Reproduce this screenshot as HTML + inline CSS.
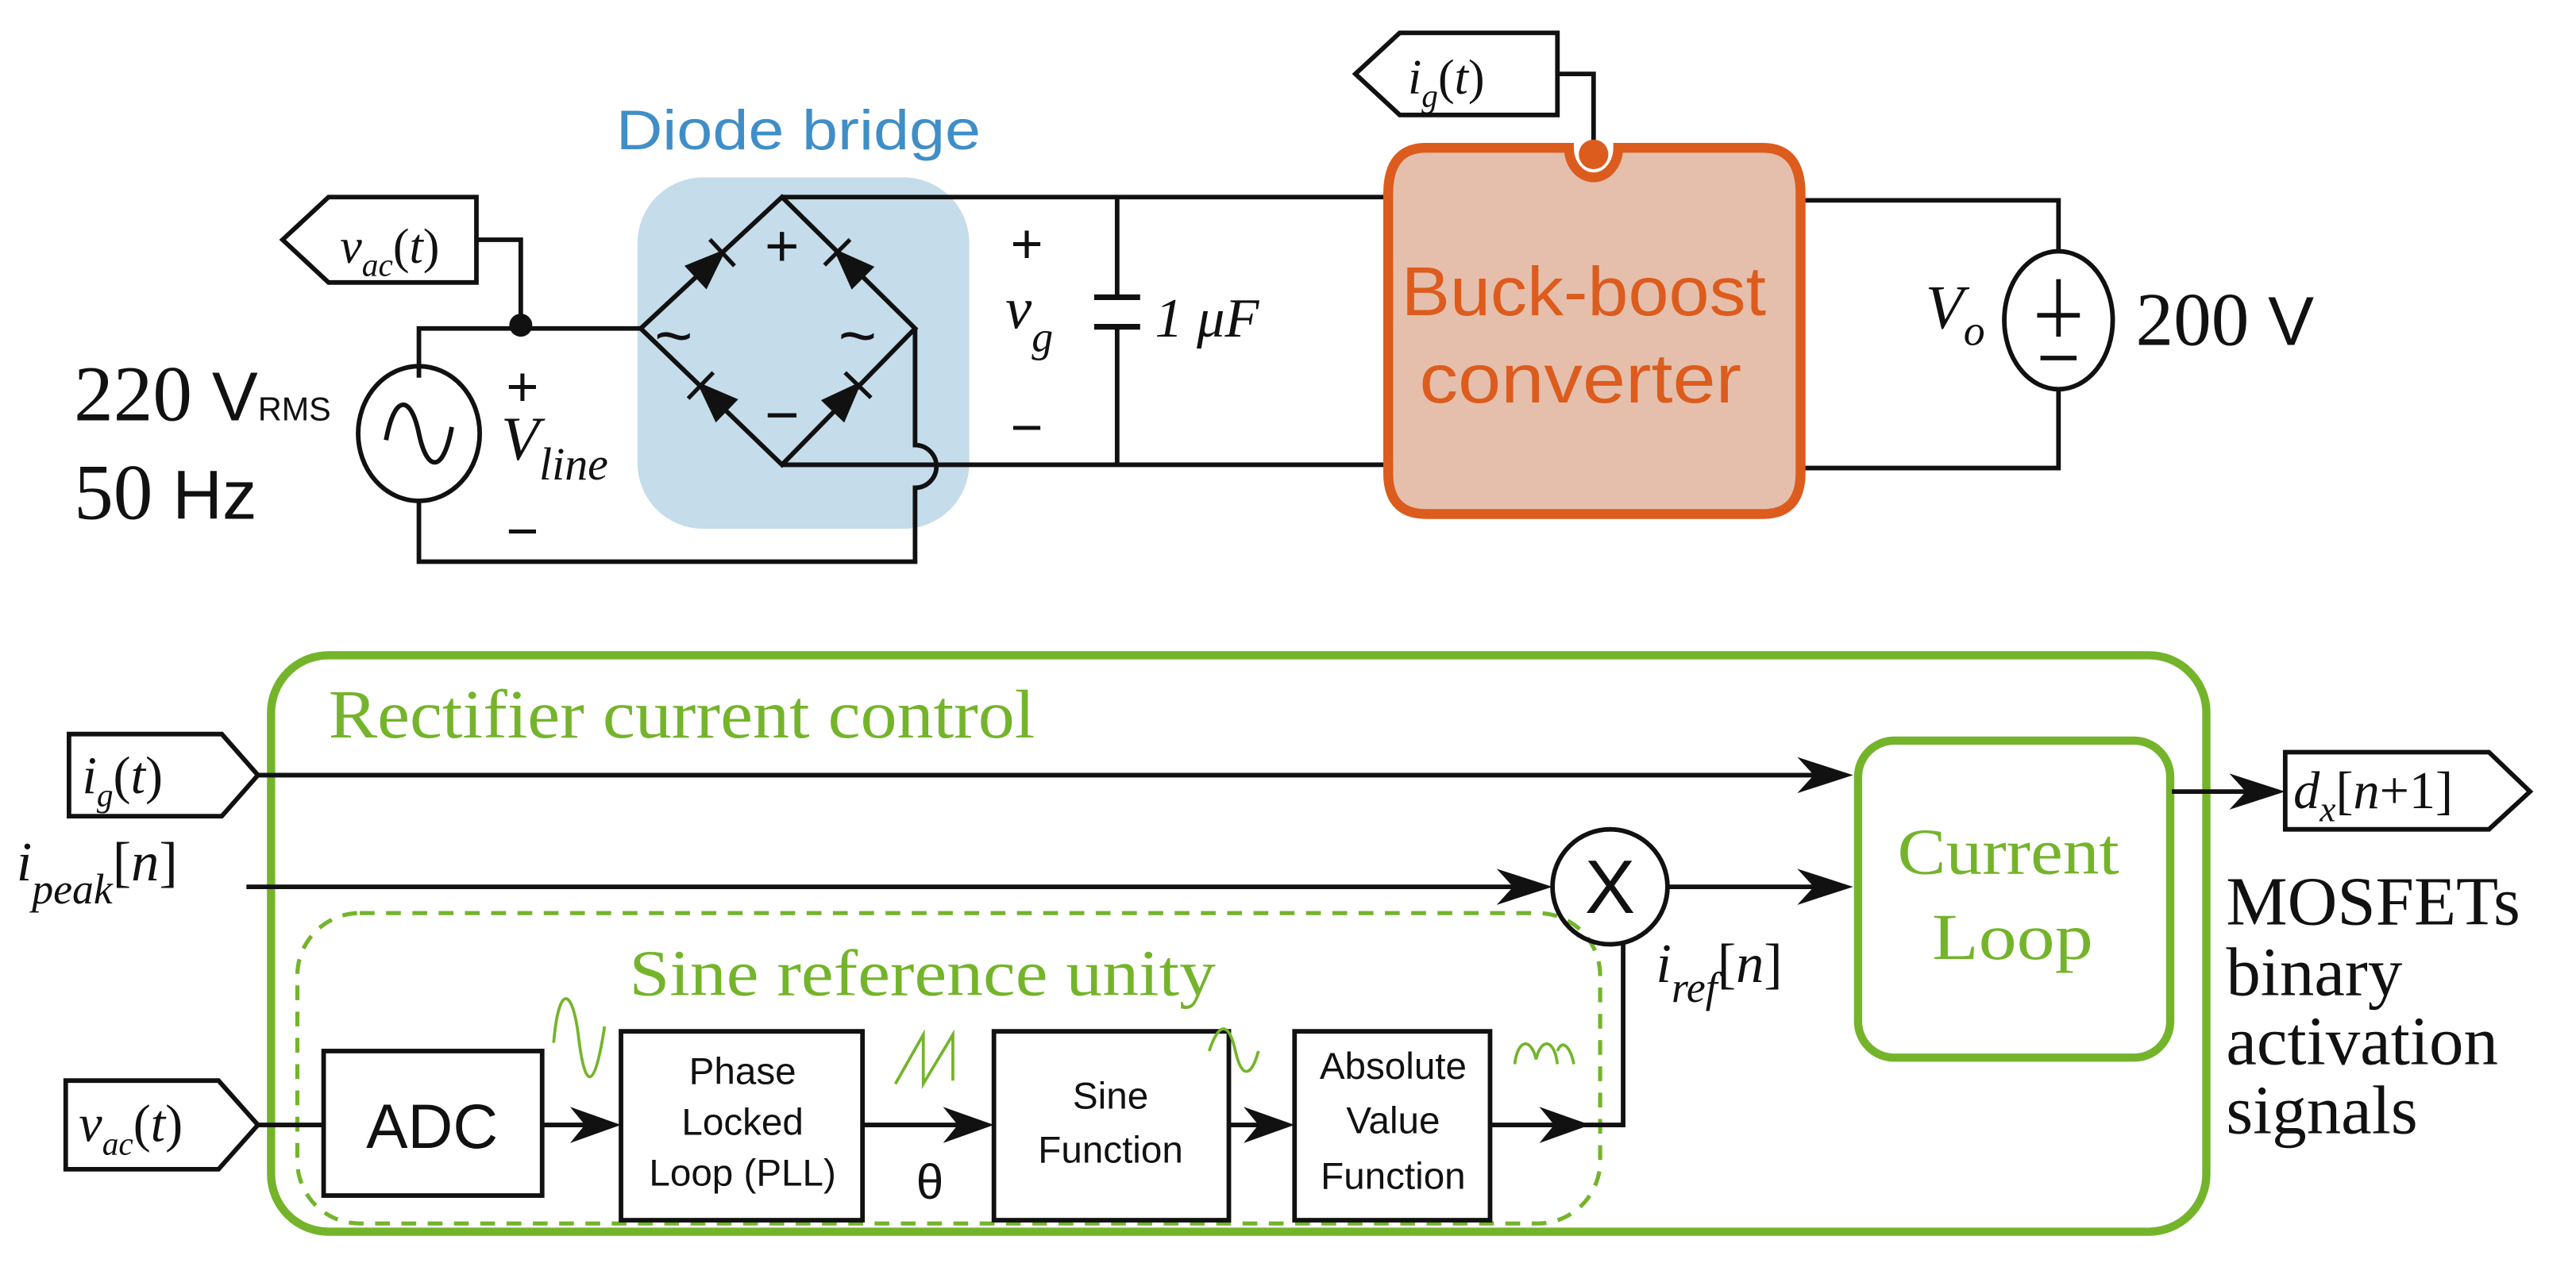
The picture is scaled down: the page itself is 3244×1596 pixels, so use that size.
<!DOCTYPE html>
<html><head><meta charset="utf-8"><style>html,body{margin:0;padding:0;background:#fff}svg{display:block}</style></head>
<body>
<svg width="3244" height="1596" viewBox="0 0 1568 771.5" preserveAspectRatio="none" xmlns="http://www.w3.org/2000/svg">
<rect x="388" y="108" width="202" height="214" rx="40" fill="#c5dcea" stroke="none"/>
<text x="375" y="91" font-family="Liberation Sans, sans-serif" font-size="34" fill="#3f8ec8" textLength="222" lengthAdjust="spacingAndGlyphs">Diode bridge</text>

<g fill="none" stroke="#111" stroke-width="2.8">
<path d="M172,146 L200,120 L290,120 L290,172 L200,172 Z" fill="#fff"/>
<path d="M290,146 L317,146 L317,200"/>
<path d="M255,230 L255,200 L390,200"/>
<ellipse cx="255" cy="264" rx="37" ry="41"/>
<path d="M235,268 C240,240 250,240 255,264 C260,288 270,288 275,260"/>
<path d="M255,305 L255,342 L557,342 L557,297 A13,13 0 0 0 557,271 L557,200"/>
<path d="M390,200 L476,120 L557,200 L476,283 Z"/>
<path d="M476,120 L843,120"/>
<path d="M476,283 L843,283"/>
<path d="M680,120 L680,181 M680,199 L680,283"/>
<path d="M666,181 L694,181 M666,199 L694,199" stroke-width="3.5"/>
<path d="M1098,122 L1253,122 L1253,153 M1253,237 L1253,285 L1098,285"/>
<ellipse cx="1253" cy="195" rx="33" ry="42"/>
<path d="M1253,170 L1253,205 M1240,192 L1266,192 M1242,218 L1264,218"/>
<path d="M825,45 L852,20 L948,20 L948,70 L852,70 Z" fill="#fff"/>
<path d="M948,45 L970,45 L970,88"/>
</g>
<circle cx="317" cy="198" r="7" fill="#111"/>
<g fill="#111" stroke="#111" stroke-width="2.5">
<g transform="translate(433,160) rotate(-43)"><path d="M9,0 L-12,-8 L-12,8 Z"/><path d="M9,-11 L9,11"/></g>
<g transform="translate(516,160) rotate(-135)"><path d="M9,0 L-12,-8 L-12,8 Z"/><path d="M9,-11 L9,11"/></g>
<g transform="translate(433,241) rotate(-136)"><path d="M9,0 L-12,-8 L-12,8 Z"/><path d="M9,-11 L9,11"/></g>
<g transform="translate(516,241) rotate(-46)"><path d="M9,0 L-12,-8 L-12,8 Z"/><path d="M9,-11 L9,11"/></g>
</g>
<g font-family="Liberation Sans, DejaVu Sans, sans-serif" fill="#111">
<text x="476" y="162" font-size="36" text-anchor="middle">+</text>
<text x="476" y="265" font-size="36" text-anchor="middle">−</text>
<text x="410" y="218" font-size="40" text-anchor="middle">~</text>
<text x="522" y="218" font-size="40" text-anchor="middle">~</text>
<text x="625" y="160" font-size="34" text-anchor="middle">+</text>
<text x="625" y="272" font-size="34" text-anchor="middle">−</text>
<text x="318" y="247" font-size="34" text-anchor="middle">+</text>
<text x="318" y="335" font-size="34" text-anchor="middle">−</text>
</g>
<g font-family="Liberation Serif, serif" fill="#111">
<text x="207" y="160" font-size="30" font-style="italic">v<tspan font-size="20" dy="8">ac</tspan><tspan dy="-8" font-style="normal">(</tspan>t<tspan font-style="normal">)</tspan></text>
<text x="857" y="57" font-size="30" font-style="italic">i<tspan font-size="20" dy="8">g</tspan><tspan dy="-8" font-style="normal">(</tspan>t<tspan font-style="normal">)</tspan></text>
<text x="612" y="200" font-size="36" font-style="italic">v<tspan font-size="26" dy="14">g</tspan></text>
<text x="703" y="205" font-size="34" font-style="italic">1 μF</text>
<text x="305" y="280" font-size="38" font-style="italic">V<tspan font-size="28" dy="12">line</tspan></text>
<text x="45" y="256" font-size="48">220 <tspan font-family="Liberation Sans, sans-serif" font-size="42">V</tspan><tspan font-family="Liberation Sans, sans-serif" font-size="20">RMS</tspan></text>
<text x="45" y="316" font-size="48">50 <tspan font-family="Liberation Sans, sans-serif" font-size="42">Hz</tspan></text>
<text x="1172" y="200" font-size="38" font-style="italic">V<tspan font-size="26" dy="10">o</tspan></text>
<text x="1300" y="210" font-size="46">200 <tspan font-family="Liberation Sans, sans-serif" font-size="42">V</tspan></text>
</g>
<path d="M868,90 L955,90 A15,18 0 0 0 985,90 L1073,90 Q1096,90 1096,118 L1096,288 Q1096,313 1073,313 L868,313 Q845,313 845,288 L845,118 Q845,90 868,90 Z" fill="#e5bfab" stroke="#dc5c1e" stroke-width="6"/>
<circle cx="970" cy="94" r="9" fill="#dc5c1e"/>
<g font-family="Liberation Sans, sans-serif" font-size="42" fill="#dc5c1e">
<text x="853" y="192" textLength="222" lengthAdjust="spacingAndGlyphs">Buck-boost</text>
<text x="864" y="245" textLength="196" lengthAdjust="spacingAndGlyphs">converter</text>
</g>

<rect x="165" y="399" width="1178" height="351" rx="35" fill="none" stroke="#74b42b" stroke-width="5"/>
<rect x="181" y="556" width="793" height="189" rx="38" fill="none" stroke="#74b42b" stroke-width="2.5" stroke-dasharray="9,7"/>
<rect x="1131" y="451" width="190" height="193" rx="22" fill="none" stroke="#74b42b" stroke-width="5"/>
<g font-family="Liberation Serif, serif" fill="#74b42b">
<text x="200" y="449" font-size="42" textLength="430" lengthAdjust="spacingAndGlyphs">Rectifier current control</text>
<text x="383" y="606" font-size="40" textLength="357" lengthAdjust="spacingAndGlyphs">Sine reference unity</text>
<text x="1155" y="532" font-size="40" textLength="135" lengthAdjust="spacingAndGlyphs">Current</text>
<text x="1176" y="584" font-size="40" textLength="98" lengthAdjust="spacingAndGlyphs">Loop</text>
</g>
<g fill="none" stroke="#111" stroke-width="2.8">
<path d="M42,447 L135,447 L157,472 L135,497 L42,497 Z" fill="#fff"/>
<path d="M40,658 L133,658 L157,685 L133,712 L40,712 Z" fill="#fff"/>
<path d="M1391,458 L1515,458 L1540,482 L1515,505 L1391,505 Z" fill="#fff"/>
<path d="M157,472 L1120,472"/>
<path d="M150,540 L935,540"/>
<path d="M1015,540 L1120,540"/>
<path d="M1322,482 L1380,482"/>
<circle cx="980" cy="540" r="35"/>
<path d="M988,575 L988,685 L907,685"/>
<path d="M157,685 L197,685 M330,685 L370,685 M525,685 L597,685 M748,685 L780,685"/>
<rect x="197" y="640" width="133" height="88"/>
<rect x="378" y="628" width="147" height="115"/>
<rect x="605" y="628" width="143" height="115"/>
<rect x="788" y="628" width="119" height="115"/>
</g>
<g fill="#111">
<path d="M1128,472 L1094,461 L1104,472 L1094,483 Z"/>
<path d="M945,540 L911,529 L921,540 L911,551 Z"/>
<path d="M1128,540 L1094,529 L1104,540 L1094,551 Z"/>
<path d="M1391,482 L1357,471 L1367,482 L1357,493 Z"/>
<path d="M378,685 L347,674 L356,685 L347,696 Z"/>
<path d="M605,685 L574,674 L583,685 L574,696 Z"/>
<path d="M788,685 L757,674 L766,685 L757,696 Z"/>
<path d="M968,685 L937,674 L946,685 L937,696 Z"/>
</g>
<g fill="none" stroke="#74b42b" stroke-width="1.8">
<path d="M337,635 C340,600 348,600 352,630 C356,665 362,665 368,625"/>
<path d="M545,660 L562,630 L562,660 L580,630 L580,658"/>
<path d="M736,640 C742,622 748,622 752,640 C756,658 762,655 766,640"/>
<path d="M922,648 C924,632 932,632 935,645 C938,632 946,632 948,648 M948,640 C951,632 956,638 958,648"/>
</g>
<g font-family="Liberation Serif, serif" fill="#111">
<text x="50" y="483" font-size="32" font-style="italic">i<tspan font-size="20" dy="8">g</tspan><tspan dy="-8" font-style="normal">(</tspan>t<tspan font-style="normal">)</tspan></text>
<text x="48" y="695" font-size="32" font-style="italic">v<tspan font-size="20" dy="8">ac</tspan><tspan dy="-8" font-style="normal">(</tspan>t<tspan font-style="normal">)</tspan></text>
<text x="10" y="536" font-size="34" font-style="italic">i<tspan font-size="26" dy="14">peak</tspan><tspan dy="-14" font-style="normal">[</tspan>n<tspan font-style="normal">]</tspan></text>
<text x="1008" y="598" font-size="34" font-style="italic">i<tspan font-size="26" dy="12">ref</tspan><tspan dy="-12" font-style="normal">[</tspan>n<tspan font-style="normal">]</tspan></text>
<text x="1396" y="492" font-size="32" font-style="italic">d<tspan font-size="22" dy="8">x</tspan><tspan dy="-8" font-style="normal">[</tspan>n<tspan font-style="normal">+1]</tspan></text>
<text x="1355" y="563" font-size="42">MOSFETs</text>
<text x="1355" y="606" font-size="42">binary</text>
<text x="1355" y="648" font-size="42">activation</text>
<text x="1355" y="690" font-size="42">signals</text>
</g>
<g font-family="Liberation Sans, sans-serif" fill="#111" text-anchor="middle">
<text x="980" y="556" font-size="46">X</text>
<text x="263" y="699" font-size="38">ADC</text>
<text x="452" y="660" font-size="23">Phase</text>
<text x="452" y="691" font-size="23">Locked</text>
<text x="452" y="722" font-size="23">Loop (PLL)</text>
<text x="566" y="730" font-size="30">θ</text>
<text x="676" y="675" font-size="23">Sine</text>
<text x="676" y="708" font-size="23">Function</text>
<text x="848" y="657" font-size="23">Absolute</text>
<text x="848" y="690" font-size="23">Value</text>
<text x="848" y="724" font-size="23">Function</text>
</g>
</svg>
</body></html>
